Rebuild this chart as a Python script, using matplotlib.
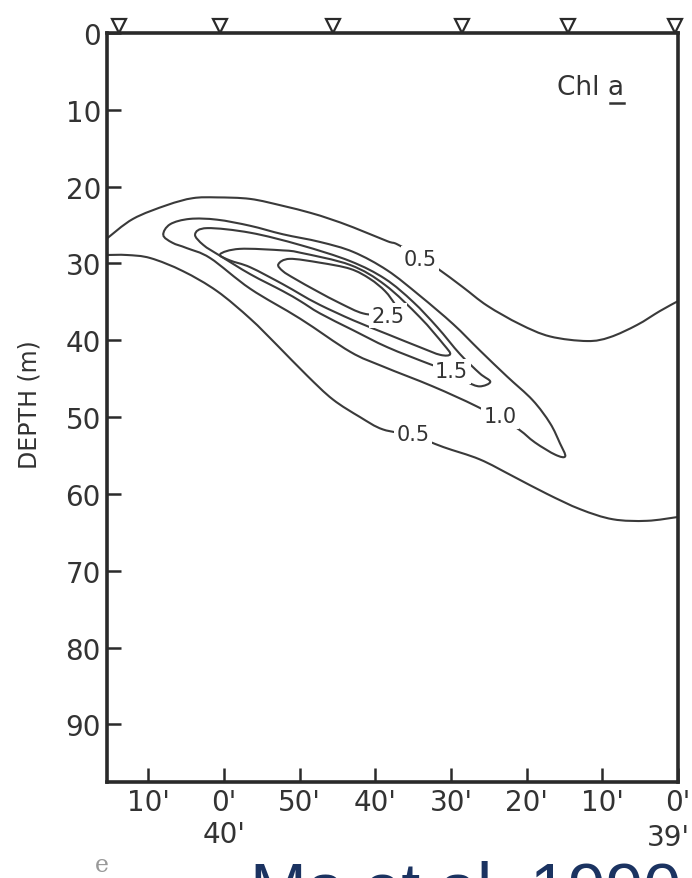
import matplotlib
matplotlib.use("Agg")
import matplotlib.pyplot as plt
import numpy as np
from matplotlib.path import Path
from matplotlib.patches import PathPatch
from matplotlib.transforms import blended_transform_factory, ScaledTranslation

# ---------------- data (x = minutes of latitude north of 39°00', depth in m) ----------------
stations_x = [73.8, 60.5, 45.6, 28.5, 14.5, 0.4]

depth_ticks = [0, 10, 20, 30, 40, 50, 60, 70, 80, 90]
lat_ticks = [70, 60, 50, 40, 30, 20, 10, 0]
lat_labels = ["10'", "0'\n40'", "50'", "40'", "30'", "20'", "10'", "0'"]
deg_label_right = "39'"

# 0.5 contour, upper branch
c05u_x = [75.5, 72.0, 67.5, 64.1, 60.9, 56.5, 52.2, 48.6, 46.0, 42.9, 38.4, 37.1,
          34.1, 31.7, 28.4, 25.2, 20.9, 16.9, 12.0, 9.0, 5.4, 2.4, 0.0]
c05u_d = [26.8, 24.2, 22.4, 21.5, 21.4, 21.6, 22.5, 23.4, 24.2, 25.3, 27.1, 27.5,
          29.2, 30.7, 33.1, 35.5, 37.9, 39.5, 40.1, 39.6, 38.0, 36.2, 34.9]
# 0.5 contour, lower branch
c05l_x = [75.5, 72.8, 69.7, 65.4, 60.9, 56.5, 53.0, 49.0, 45.6, 42.0, 39.0, 35.0,
          31.0, 26.2, 21.8, 17.3, 12.9, 8.6, 4.1, 0.0]
c05l_d = [28.9, 28.9, 29.3, 31.0, 33.6, 37.2, 40.6, 44.6, 47.7, 50.0, 51.6, 52.4,
          53.9, 55.5, 57.7, 60.0, 62.0, 63.3, 63.5, 63.0]
# 1.0 closed contour
c10_x = [68.0, 67.1, 64.5, 60.9, 56.5, 52.2, 47.3, 42.9, 38.4, 34.1, 29.7, 26.2, 22.6,
         19.2, 16.9, 15.6, 14.9, 16.2, 18.9, 21.5, 26.6, 32.4, 39.0, 43.3, 49.9, 56.5,
         61.8, 64.9, 66.8]
c10_d = [26.3, 24.9, 24.2, 24.3, 25.1, 26.2, 27.2, 28.5, 30.9, 34.2, 37.9, 41.3, 44.7,
         47.8, 50.8, 53.4, 55.1, 54.9, 53.3, 51.3, 48.6, 46.0, 43.4, 41.5, 37.2, 33.3,
         29.3, 28.0, 27.3]
# 1.5 closed contour
c15_x = [63.8, 62.2, 56.5, 49.9, 43.3, 38.7, 35.0, 31.8, 28.8, 26.2, 24.8, 26.2, 27.9,
         29.9, 32.8, 38.4, 42.9, 47.3, 49.9, 52.2, 56.5, 60.5, 62.7]
c15_d = [26.2, 25.4, 26.0, 27.6, 29.7, 32.0, 35.0, 38.3, 41.8, 44.3, 45.4, 46.0, 45.4,
         44.1, 43.1, 40.9, 38.7, 36.5, 34.9, 33.6, 31.4, 29.0, 27.6]
# 2.0 closed contour
c20_x = [60.5, 57.9, 52.2, 49.9, 43.3, 38.7, 34.1, 31.0, 30.1, 31.4, 34.1, 38.4, 42.9,
         47.3, 49.9, 52.2, 56.5, 59.2]
c20_d = [28.8, 28.1, 28.3, 28.6, 30.2, 32.8, 37.0, 40.5, 41.8, 41.9, 40.9, 39.2, 37.4,
         35.4, 34.0, 32.7, 30.5, 29.6]
# 2.5 closed contour
c25_x = [52.8, 51.3, 47.3, 43.3, 40.7, 38.7, 37.4, 37.0, 38.7, 41.6, 44.6, 47.7, 50.6, 52.2]
c25_d = [30.1, 29.4, 29.9, 30.7, 32.0, 33.6, 35.3, 36.2, 36.7, 36.5, 35.2, 33.6, 32.0, 31.0]

label_text = ["0.5", "2.5", "1.5", "1.0", "0.5"]
label_x = [34.1, 38.3, 29.9, 23.5, 35.0]
label_d = [29.4, 36.8, 44.0, 49.9, 52.2]


def smooth_path(xs, ds, closed):
    """Smooth curve through the read points (Catmull-Rom drawn as cubic Bezier segments)."""
    P = np.column_stack([xs, ds]).astype(float)
    n = len(P)
    verts = [P[0]]
    codes = [Path.MOVETO]
    segs = n if closed else n - 1
    for i in range(segs):
        p1 = P[i]
        p2 = P[(i + 1) % n]
        if closed:
            p0 = P[(i - 1) % n]
            p3 = P[(i + 2) % n]
        else:
            p0 = P[max(i - 1, 0)]
            p3 = P[min(i + 2, n - 1)]
        c1 = p1 + (p2 - p0) / 6.0
        c2 = p2 - (p3 - p1) / 6.0
        verts += [c1, c2, p2]
        codes += [Path.CURVE4] * 3
    return Path(verts, codes)


# ---------------- figure ----------------
W, H = 692, 879
fig = plt.figure(figsize=(W / 100, H / 100), dpi=100)
ax = fig.add_axes([106.5 / W, 1 - 783 / H, (678 - 106.5) / W, (783 - 34) / H])

LC = "#3a3a3a"
TC = "#333333"

open_lines = [(c05u_x, c05u_d), (c05l_x, c05l_d)]
closed_lines = [(c10_x, c10_d), (c15_x, c15_d), (c20_x, c20_d), (c25_x, c25_d)]
for xs, ds in open_lines:
    ax.add_patch(PathPatch(smooth_path(xs, ds, False), fc="none", ec=LC, lw=1.5,
                           joinstyle="round", capstyle="round", zorder=2))
for xs, ds in closed_lines:
    ax.add_patch(PathPatch(smooth_path(xs, ds, True), fc="none", ec=LC, lw=1.5,
                           joinstyle="round", zorder=2))

for t, x, d in zip(label_text, label_x, label_d):
    ax.text(x, d, t, ha="center", va="center", fontsize=15, color=TC, zorder=3,
            bbox=dict(boxstyle="square,pad=0.12", fc="white", ec="none"))

ax.set_xlim(75.5, 0)
ax.set_ylim(97.5, 0)
ax.set_yticks(depth_ticks)
ax.set_yticklabels([str(v) for v in depth_ticks])
ax.set_xticks(lat_ticks)
ax.set_xticklabels(lat_labels, linespacing=1.2)

ax.tick_params(axis="y", direction="in", length=10, width=1.8, pad=4, labelsize=20,
               labelcolor=TC, color="#2a2a2a", right=False, left=True)
ax.tick_params(axis="x", direction="in", length=10, width=1.8, pad=4, labelsize=20,
               labelcolor=TC, color="#2a2a2a", top=False, bottom=True)
for s in ax.spines.values():
    s.set_linewidth(2.6)
    s.set_color("#2a2a2a")

# second-row degree label at the right end
fig.text(690 / W, 1 - 838 / H, deg_label_right, fontsize=20, color=TC,
         ha="right", va="center")

# station markers above top axis
trans = blended_transform_factory(ax.transData, ax.transAxes) + \
    ScaledTranslation(0, 0.075, fig.dpi_scale_trans)
ax.plot(stations_x, [1.0] * len(stations_x), linestyle="none", marker="v", markersize=10,
        mfc="white", mec="#2a2a2a", mew=1.6, transform=trans, clip_on=False, zorder=5)

# "Chl a" with underlined a
chl = ax.text(11.5, 7.0, "Chl a", fontsize=19, color=TC, ha="center", va="center")
fig.canvas.draw()
bb = chl.get_window_extent().transformed(fig.transFigure.inverted())
ux0 = bb.x0 + bb.width * 0.78
ux1 = bb.x1
uy = bb.y0 - 0.004
fig.add_artist(plt.Line2D([ux0, ux1], [uy, uy], transform=fig.transFigure, color=TC, lw=1.8))

fig.text(30 / W, 1 - 405 / H, "DEPTH (m)", rotation=90, ha="center", va="center",
         fontsize=17, color=TC)

fig.text(102 / W, 1 - 866 / H, "e", fontsize=17, color="#999999", family="DejaVu Serif",
         ha="center", va="center")
fig.text(250 / W, 1 - 911 / H, "Ma et al. 1990", fontsize=49, color="#1b3361",
         family="Liberation Sans", ha="left", va="baseline")

fig.savefig("out.png", dpi=100, facecolor="white")
